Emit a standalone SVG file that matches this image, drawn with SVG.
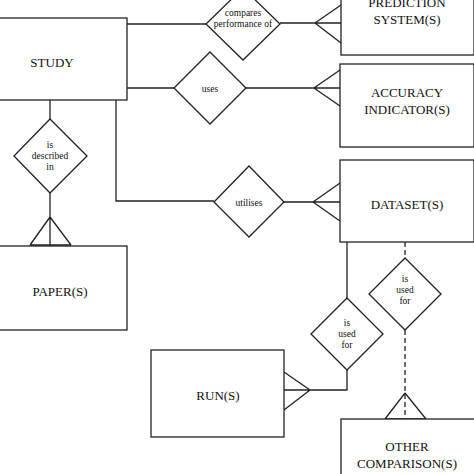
<svg xmlns="http://www.w3.org/2000/svg" width="474" height="474" viewBox="0 0 474 474">
<style>
.b,polygon,path{fill:none;stroke:#222;stroke-width:1.3}
.b,polygon{fill:#fff}
.e{font-family:"Liberation Serif","Times New Roman",serif;font-size:13px;text-anchor:middle;fill:#111}
.r{font-family:"Liberation Serif","Times New Roman",serif;font-size:9.5px;text-anchor:middle;fill:#111}
.d{stroke-dasharray:5,3}
</style>
<rect x="0" y="0" width="474" height="474" style="fill:#fff;stroke:none"/>
<g id="connectors">
<path d="M127 24H206M280 23H341M315 23L341 5M315 23L341 43M315 23H341"/>
<path d="M127 88H174M246 88H340M314 88L340 70M314 88L340 106M314 88H340"/>
<path d="M116 100V201H214M284 202H340M313 202L340 183M313 202L340 221M313 202H340"/>
<path d="M50 100V119M50 193V246M50 217L30 245M50 217L71 245M30 245H71"/>
<path d="M347 242V298M347 370V390H310M310 390L284 372M310 390L284 410M310 390H284"/>
<path class="d" d="M405 242V258M405 330V419"/>
<path d="M405 393L385 419M405 393L426 419M385 419H426"/>
</g>
<g id="study"><rect class="b" x="-1" y="18" width="128" height="82"/><text class="e" x="52" y="67">STUDY</text></g>
<g id="prediction"><rect class="b" x="341" y="-10" width="133" height="65"/><text class="e" x="407" y="7">PREDICTION</text><text class="e" x="407" y="24">SYSTEM(S)</text></g>
<g id="accuracy"><rect class="b" x="340" y="64" width="134" height="83"/><text class="e" x="407" y="97">ACCURACY</text><text class="e" x="407" y="114">INDICATOR(S)</text></g>
<g id="dataset"><rect class="b" x="340" y="160" width="134" height="82"/><text class="e" x="407" y="209">DATASET(S)</text></g>
<g id="paper"><rect class="b" x="-1" y="246" width="128" height="84"/><text class="e" x="60" y="296">PAPER(S)</text></g>
<g id="run"><rect class="b" x="151" y="350" width="133" height="87"/><text class="e" x="218" y="400">RUN(S)</text></g>
<g id="other"><rect class="b" x="341" y="419" width="134" height="60"/><text class="e" x="407" y="451">OTHER</text><text class="e" x="407" y="468">COMPARISON(S)</text></g>
<g id="compares"><polygon points="243,-12 280,24 243,60 206,24"/><text class="r" x="243" y="16">compares</text><text class="r" x="243" y="27">performance of</text></g>
<g id="uses"><polygon points="210,52 246,88 210,124 174,88"/><text class="r" x="210" y="92">uses</text></g>
<g id="utilises"><polygon points="249,166 284,202 249,237 214,202"/><text class="r" x="249" y="206">utilises</text></g>
<g id="described"><polygon points="50,119 87,156 50,193 14,156"/><text class="r" x="50" y="148">is</text><text class="r" x="50" y="159">described</text><text class="r" x="50" y="170">in</text></g>
<g id="usedfor1"><polygon points="347,298 383,334 347,370 311,334"/><text class="r" x="347" y="326">is</text><text class="r" x="347" y="337">used</text><text class="r" x="347" y="348">for</text></g>
<g id="usedfor2"><polygon points="405,258 441,294 405,330 369,294"/><text class="r" x="405" y="282">is</text><text class="r" x="405" y="293">used</text><text class="r" x="405" y="304">for</text></g>
</svg>
